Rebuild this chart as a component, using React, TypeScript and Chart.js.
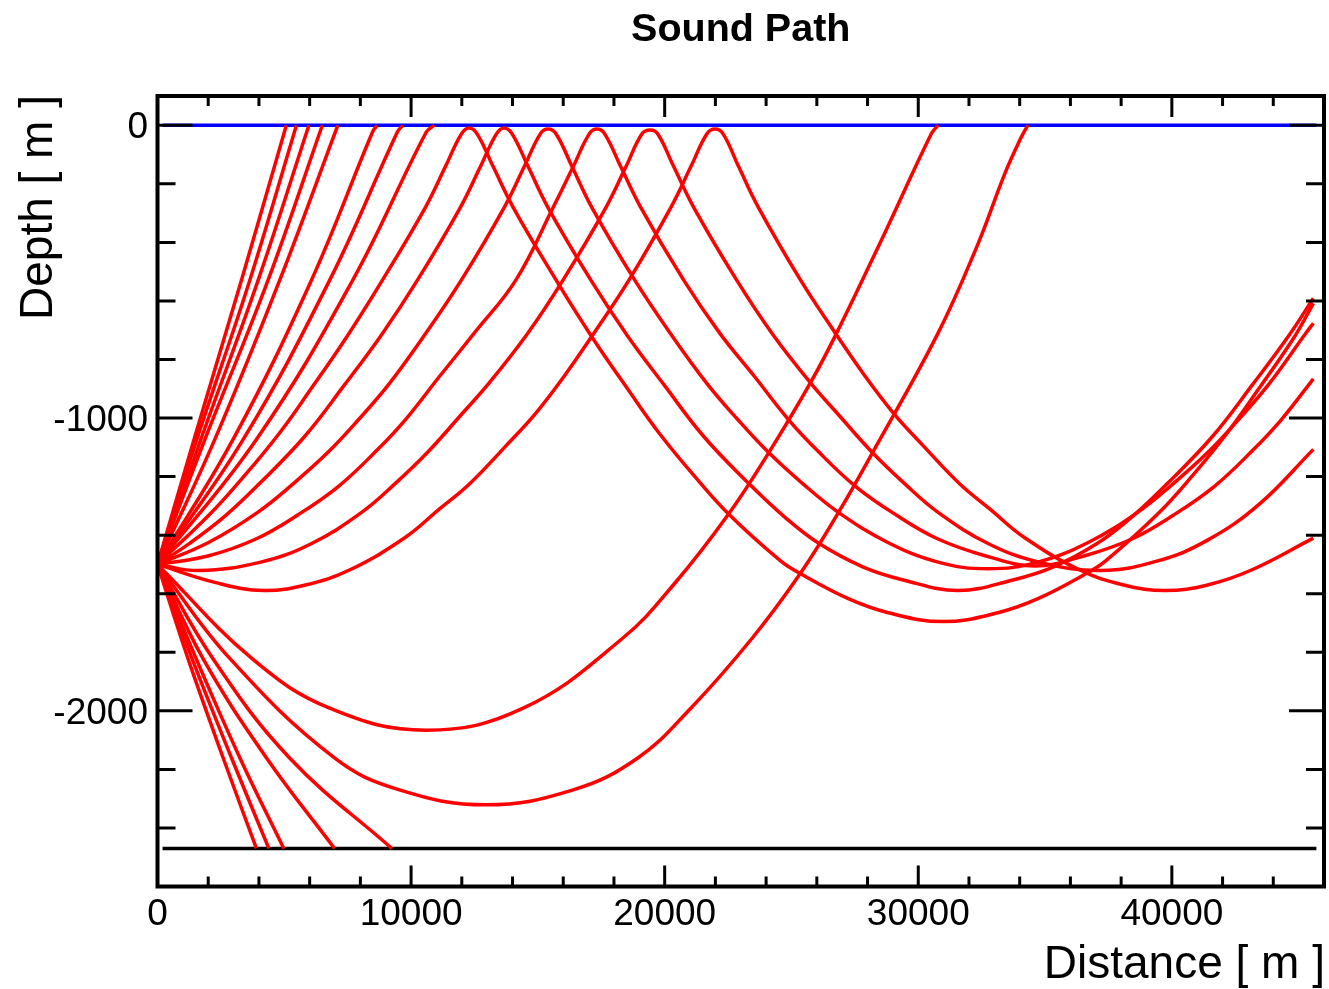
import React, { useEffect, useRef } from "react";
import { Chart, registerables } from "chart.js";

Chart.register(...registerables);

type Pt = [number, number];

const chartTitle = "Sound Path";
const xAxisTitle = "Distance [ m ]";
const yAxisTitle = "Depth [ m ]";

const xRange = [0, 46000];
const yRange = [-2600, 100];

const xMajorTicks = [0, 10000, 20000, 30000, 40000];
const xTickLabels = ["0", "10000", "20000", "30000", "40000"];
const xMinorTicks = [2000, 4000, 6000, 8000, 12000, 14000, 16000, 18000, 22000, 24000, 26000, 28000, 32000, 34000, 36000, 38000, 42000, 44000];
const yMajorTicks = [0, -1000, -2000];
const yTickLabels = ["0", "-1000", "-2000"];
const yMinorTicks = [-200, -400, -600, -800, -1200, -1400, -1600, -1800, -2200, -2400];

// sea surface and sea floor
const surfaceLine: Pt[] = [[200, 0], [45700, 0]];
const floorLine: Pt[] = [[200, -2470], [45700, -2470]];

// steep upward rays ending at the surface
const rayA1: Pt[] = [[0, -1500], [1440, -1073], [3310, -529], [5080, 0]];
const rayA2: Pt[] = [[0, -1500], [1550, -1073], [3640, -529], [5480, 0]];
const rayA3: Pt[] = [[0, -1500], [1710, -1073], [3970, -529], [5970, 0]];
const rayA4: Pt[] = [[0, -1500], [1870, -1073], [4360, -529], [6500, 0]];
const rayA5: Pt[] = [[0, -1500], [2260, -1073], [4820, -529], [7110, 0]];
const rayA6: Pt[] = [[0, -1500], [2980, -1073], [6070, -529], [8480, -23], [8660, 0]];
const rayA7: Pt[] = [[0, -1500], [3380, -1073], [6790, -529], [9460, -23], [9670, 0]];
const rayA8: Pt[] = [[0, -1500], [3900, -1073], [7700, -529], [10600, -23], [10920, 0]];

// refracted rays turning just below the surface
const rayB1: Pt[] = [[0, -1500], [2070, -1328], [3440, -1196], [4820, -1050], [6000, -907], [7460, -723], [8870, -529], [10560, -281], [11350, -142], [11980, -30], [12290, -9], [12610, -30], [13240, -142], [14030, -281], [15720, -529], [17130, -723], [18590, -907], [19770, -1050], [21150, -1196], [22520, -1328], [24570, -1488], [25360, -1532], [27240, -1617], [28820, -1665], [30980, -1695], [33140, -1665], [34720, -1617], [36610, -1532], [37390, -1488], [39440, -1328], [40820, -1196], [42190, -1050], [43370, -907], [44830, -723], [45580, -608]];
const rayB2: Pt[] = [[0, -1500], [1280, -1427], [2660, -1335], [4030, -1223], [5800, -1063], [7380, -886], [8830, -716], [10250, -529], [11940, -281], [12730, -142], [13360, -30], [13670, -9], [13990, -30], [14620, -142], [15400, -281], [17090, -529], [18510, -716], [19970, -886], [21540, -1063], [23310, -1223], [24690, -1335], [26060, -1427], [27830, -1509], [29410, -1553], [31570, -1589], [33730, -1553], [35310, -1509], [37080, -1427], [38460, -1335], [39830, -1223], [41600, -1063], [43180, -886], [44630, -716], [45580, -591]];
const rayB3: Pt[] = [[0, -1500], [2030, -1424], [3950, -1322], [5370, -1223], [6710, -1118], [7930, -1005], [9110, -886], [10560, -713], [11980, -529], [13670, -281], [14460, -142], [15090, -30], [15400, -13], [15720, -30], [16350, -142], [17130, -281], [18820, -529], [20240, -713], [21700, -886], [22880, -1005], [24100, -1118], [25430, -1223], [26850, -1322], [28780, -1424], [30780, -1492], [32750, -1515], [34720, -1492], [36720, -1424], [38650, -1322], [40070, -1223], [41410, -1118], [42630, -1005], [43810, -886], [45260, -713], [45580, -676]];
const rayB4: Pt[] = [[0, -1500], [1990, -1471], [3880, -1413], [5530, -1331], [7140, -1233], [8640, -1111], [9780, -1005], [11110, -859], [12490, -710], [14130, -529], [15600, -281], [16390, -142], [17020, -30], [17330, -13], [17640, -30], [18270, -142], [19060, -281], [20750, -529], [22170, -710], [23550, -859], [24880, -1005], [26020, -1111], [27520, -1233], [29130, -1331], [30780, -1413], [32670, -1471], [34600, -1505], [36530, -1471], [38420, -1413], [40070, -1331], [41680, -1233], [43180, -1111], [44320, -1005], [45580, -866]];
const rayB5: Pt[] = [[0, -1500], [1630, -1521], [4070, -1492], [6040, -1430], [8050, -1322], [9380, -1223], [10680, -1114], [11940, -992], [13080, -880], [14580, -713], [15990, -529], [17680, -281], [18470, -142], [19100, -30], [19430, -16], [19730, -30], [20360, -142], [21150, -281], [22840, -529], [24250, -713], [25750, -880], [26890, -992], [28150, -1114], [29450, -1223], [30780, -1322], [32790, -1430], [34760, -1492], [37200, -1521], [39440, -1488], [41410, -1417], [43450, -1294], [45580, -1107]];
const rayB6: Pt[] = [[0, -1500], [2340, -1563], [4190, -1589], [5840, -1570], [7570, -1519], [9780, -1407], [11110, -1311], [12290, -1226], [13750, -1094], [14930, -982], [16070, -853], [17210, -710], [18590, -529], [20240, -281], [21030, -142], [21660, -30], [21990, -13], [22310, -30], [22920, -142], [23700, -281], [25360, -529], [26730, -710], [27870, -853], [29010, -982], [30190, -1094], [31650, -1226], [32830, -1311], [34170, -1407], [36370, -1519], [38100, -1570], [39750, -1589], [41410, -1570], [43140, -1519], [45580, -1410]];

// steep downward rays ending at the sea floor
const rayC1: Pt[] = [[0, -1500], [1200, -1821], [2590, -2161], [3900, -2470]];
const rayC2: Pt[] = [[0, -1500], [1360, -1821], [2920, -2161], [4390, -2470]];
const rayC3: Pt[] = [[0, -1500], [1520, -1821], [3250, -2161], [4980, -2470]];
const rayC4: Pt[] = [[0, -1500], [1790, -1821], [4300, -2161], [6980, -2470]];
const rayC5: Pt[] = [[0, -1500], [2180, -1821], [5210, -2161], [9240, -2470]];

// deep refracted rays reaching the surface
const rayD1: Pt[] = [[0, -1500], [3720, -1821], [6790, -1991], [10600, -2066], [14420, -1991], [18330, -1753], [20440, -1560], [22520, -1328], [24100, -1119], [25740, -881], [26780, -710], [28690, -366], [30510, -30], [30780, 0]];
const rayD2: Pt[] = [[0, -1500], [2850, -1821], [6980, -2161], [9540, -2270], [12960, -2321], [16390, -2270], [18940, -2161], [21030, -1991], [23440, -1753], [25340, -1532], [26850, -1323], [28160, -1124], [30780, -710], [32360, -404], [33410, -166], [34050, -43], [34320, 0]];

const rays: Pt[][] = [rayA1, rayA2, rayA3, rayA4, rayA5, rayA6, rayA7, rayA8, rayB1, rayB2, rayB3, rayB4, rayB5, rayB6, rayC1, rayC2, rayC3, rayC4, rayC5, rayD1, rayD2];

const FONT = '"Liberation Sans", Arial, Helvetica, sans-serif';

const rootFrame = {
  id: "rootFrame",
  afterDraw(chart: any) {
    const { ctx, chartArea: a, scales } = chart;
    const sx = scales.x;
    const sy = scales.y;
    ctx.save();
    ctx.strokeStyle = "#000";
    ctx.lineWidth = 3;
    ctx.lineCap = "butt";
    ctx.beginPath();
    const vtick = (v: number, len: number) => {
      const p = sx.getPixelForValue(v);
      ctx.moveTo(p, a.bottom);
      ctx.lineTo(p, a.bottom - len);
      ctx.moveTo(p, a.top);
      ctx.lineTo(p, a.top + len);
    };
    const htick = (v: number, len: number) => {
      const p = sy.getPixelForValue(v);
      ctx.moveTo(a.left, p);
      ctx.lineTo(a.left + len, p);
      ctx.moveTo(a.right, p);
      ctx.lineTo(a.right - len, p);
    };
    xMajorTicks.forEach((v) => vtick(v, 21));
    xMinorTicks.forEach((v) => vtick(v, 10));
    yMajorTicks.forEach((v) => htick(v, 35));
    yMinorTicks.forEach((v) => htick(v, 18));
    ctx.stroke();
    ctx.lineWidth = 4;
    ctx.strokeRect(a.left, a.top, a.right - a.left, a.bottom - a.top);

    ctx.fillStyle = "#000";
    ctx.font = `37px ${FONT}`;
    ctx.textBaseline = "alphabetic";
    ctx.textAlign = "center";
    xMajorTicks.forEach((v, i) => ctx.fillText(xTickLabels[i], sx.getPixelForValue(v), a.bottom + 38.5));
    ctx.textAlign = "right";
    yMajorTicks.forEach((v, i) => ctx.fillText(yTickLabels[i], a.left - 9.5, sy.getPixelForValue(v) + 13));

    ctx.font = `bold 39.5px ${FONT}`;
    ctx.textAlign = "center";
    ctx.fillText(chartTitle, (a.left + a.right) / 2, 41);

    ctx.font = `46px ${FONT}`;
    ctx.textAlign = "right";
    ctx.fillText(xAxisTitle, a.right + 1, 978);
    ctx.translate(52, a.top - 1);
    ctx.rotate(-Math.PI / 2);
    ctx.fillText(yAxisTitle, 0, 0);
    ctx.restore();
  },
};

export default function App() {
  const canvasRef = useRef<HTMLCanvasElement | null>(null);

  useEffect(() => {
    document.body.style.margin = "0";
    const canvas = canvasRef.current;
    if (!canvas) return;
    const toXY = (pts: Pt[]) => pts.map(([x, y]) => ({ x, y }));
    const datasets: any[] = rays.map((r) => ({
      data: toXY(r),
      borderColor: "#ff0000",
      borderWidth: 3.5,
      pointRadius: 0,
      fill: false,
      tension: 0.4,
    }));
    datasets.push({ data: toXY(surfaceLine), borderColor: "#0000ff", borderWidth: 3.5, pointRadius: 0, fill: false });
    datasets.push({ data: toXY(floorLine), borderColor: "#000000", borderWidth: 3.5, pointRadius: 0, fill: false });

    const chart = new Chart(canvas, {
      type: "line",
      data: { datasets },
      options: {
        animation: false,
        responsive: false,
        events: [],
        layout: { padding: { left: 157.5, right: 5, top: 96, bottom: 102.5 } },
        scales: {
          x: { type: "linear", min: xRange[0], max: xRange[1], display: false },
          y: { type: "linear", min: yRange[0], max: yRange[1], display: false },
        },
        plugins: { legend: { display: false }, title: { display: false }, tooltip: { enabled: false } },
      },
      plugins: [rootFrame],
    } as any);
    return () => chart.destroy();
  }, []);

  return <canvas ref={canvasRef} width={1329} height={989} style={{ display: "block" }} />;
}
